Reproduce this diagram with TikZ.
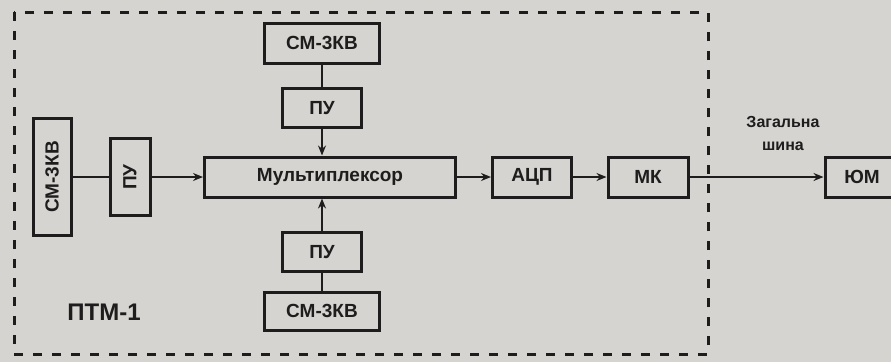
\documentclass[tikz,border=0pt]{standalone}
\usepackage{fontspec}
\setmainfont{Liberation Sans}
\usepackage{tikz}
\usetikzlibrary{arrows.meta}
\definecolor{paper}{RGB}{214,212,208}
\definecolor{ink}{RGB}{30,28,28}

\begin{document}
\begin{tikzpicture}[x=1pt,y=-1pt,>={Stealth[length=10pt,width=8pt]},
  box/.style={draw=ink, line width=3pt, fill=paper, text=ink,
    font=\fontsize{19}{19}\selectfont\bfseries, inner sep=0pt},
  link/.style={draw=ink, line width=2.2pt}]
  % Background
  \path[use as bounding box, fill=paper] (0,0) rectangle (891,362);
  \clip (0,0) rectangle (891,362);
  % Frame
  \draw[ink, line width=3pt, dash pattern=on 9pt off 10pt] (14,12) rectangle (708,354);
  \node[ink, font=\fontsize{24}{24}\selectfont\bfseries] (ptm) at (104,312) {ПТМ-1};
  % Blocks
  \node[box, rotate=90, minimum width=117pt, minimum height=38pt] (smL) at (52,177) {СМ-3КВ};
  \node[box, rotate=90, minimum width=77pt, minimum height=40pt] (puL) at (130,177) {ПУ};
  \node[box, minimum width=251pt, minimum height=40pt] (mux) at (330,177) {Мультиплексор};
  \node[box, minimum width=115pt, minimum height=40pt] (smT) at (322,43) {СМ-3КВ};
  \node[box, minimum width=79pt, minimum height=39pt] (puT) at (322,108) {ПУ};
  \node[box, minimum width=79pt, minimum height=39pt] (puB) at (322,252) {ПУ};
  \node[box, minimum width=115pt, minimum height=38pt] (smB) at (322,311) {СМ-3КВ};
  \node[box, minimum width=79pt, minimum height=40pt] (adc) at (532,177) {АЦП};
  \node[box, minimum width=80pt, minimum height=40pt] (mk) at (648,177) {МК};
  \node[box, minimum width=74pt, minimum height=40pt] (yom) at (862,177) {ЮМ};
  % Bus label
  \node[ink, font=\fontsize{16}{23}\selectfont\bfseries, align=center] (bus) at (783,133) {Загальна\\шина};
  % Connections
  \draw[link] (smL) -- (puL);
  \draw[link,->] (puL) -- (mux);
  \draw[link] (smT) -- (puT);
  \draw[link,->] (puT) -- (puT |- mux.north);
  \draw[link] (smB) -- (puB);
  \draw[link,->] (puB) -- (puB |- mux.south);
  \draw[link,->] (mux) -- (adc);
  \draw[link,->] (adc) -- (mk);
  \draw[link,->] (mk) -- (yom);
\end{tikzpicture}
\end{document}
